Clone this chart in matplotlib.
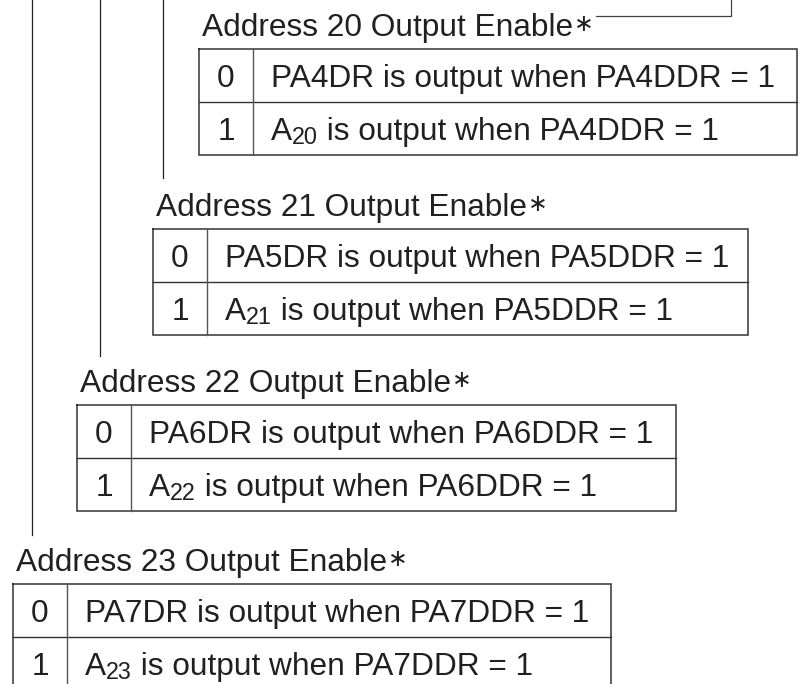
import matplotlib
matplotlib.use('Agg')
import matplotlib.pyplot as plt

plt.rcParams['font.family'] = ['Liberation Sans', 'DejaVu Sans']

# text content
address_bits = ['20', '21', '22', '23']
port_pins = ['PA4', 'PA5', 'PA6', 'PA7']
row_values = ['0', '1']

# layout (pixels, y down)
table_left = [199, 153, 77, 13]
table_right = [797, 748, 676, 611]
table_top = [49, 229, 405, 584]
row_height = 53
col_width = 54
link_x = [163, 100, 32]
link_end = [178, 356, 535]

fig = plt.figure(figsize=(8.01, 6.84), dpi=100)
ax = fig.add_axes([0, 0, 1, 1])
ax.set_xlim(0, 801)
ax.set_ylim(684, 0)
ax.axis('off')
fig.canvas.draw()
renderer = fig.canvas.get_renderer()

fs = 22.8
txt_col = '#231f20'
line_col = '#333333'


def right_edge(t):
    bb = t.get_window_extent(renderer=renderer)
    return ax.transData.inverted().transform((bb.x1, bb.y0))[0]


for i in range(4):
    x0 = table_left[i]
    x1 = table_right[i]
    y0 = table_top[i]
    y1 = y0 + 2 * row_height
    xd = x0 + col_width

    # title with raised asterisk
    t = ax.text(x0 + 3, y0 - 13, 'Address ' + address_bits[i] + ' Output Enable',
                fontsize=fs, va='baseline', ha='left', color=txt_col)
    xe = right_edge(t)
    ax.text(xe + 1, y0 - 37, '\u2217', fontsize=17, va='top', ha='left',
            color=txt_col, family=['DejaVu Sans'])

    # table frame
    ax.plot([x0, x1, x1, x0, x0], [y0, y0, y1, y1, y0], color=line_col,
            lw=1.1, solid_joinstyle='miter')
    ax.plot([x0, x1], [y0 + row_height, y0 + row_height], color=line_col,
            lw=1.0)
    ax.plot([xd, xd], [y0, y1], color='#555555', lw=1.0)

    pin = port_pins[i]
    for r in range(2):
        yb = y0 + r * row_height + 38
        ax.text((x0 + xd) / 2, yb, row_values[r], fontsize=fs,
                ha='center', va='baseline', color=txt_col)
        if r == 0:
            ax.text(xd + 18, yb, pin + 'DR is output when ' + pin + 'DDR = 1',
                    fontsize=fs, ha='left', va='baseline', color=txt_col)
        else:
            ta = ax.text(xd + 18, yb, 'A', fontsize=fs, ha='left',
                         va='baseline', color=txt_col)
            xa = right_edge(ta)
            ts = ax.text(xa, yb + 4, address_bits[i], fontsize=fs * 0.74,
                         ha='left', va='baseline', color=txt_col)
            xs = right_edge(ts)
            ax.text(xs, yb, ' is output when ' + pin + 'DDR = 1', fontsize=fs,
                    ha='left', va='baseline', color=txt_col)

# connecting lines on the left
for i in range(3):
    ax.plot([link_x[i], link_x[i]], [0, link_end[i]], color='#222222',
            lw=0.9)

# connector at top right
ax.plot([596, 731, 731], [16, 16, 0], color='#444444', lw=0.9)

fig.savefig('out.png', dpi=100)
